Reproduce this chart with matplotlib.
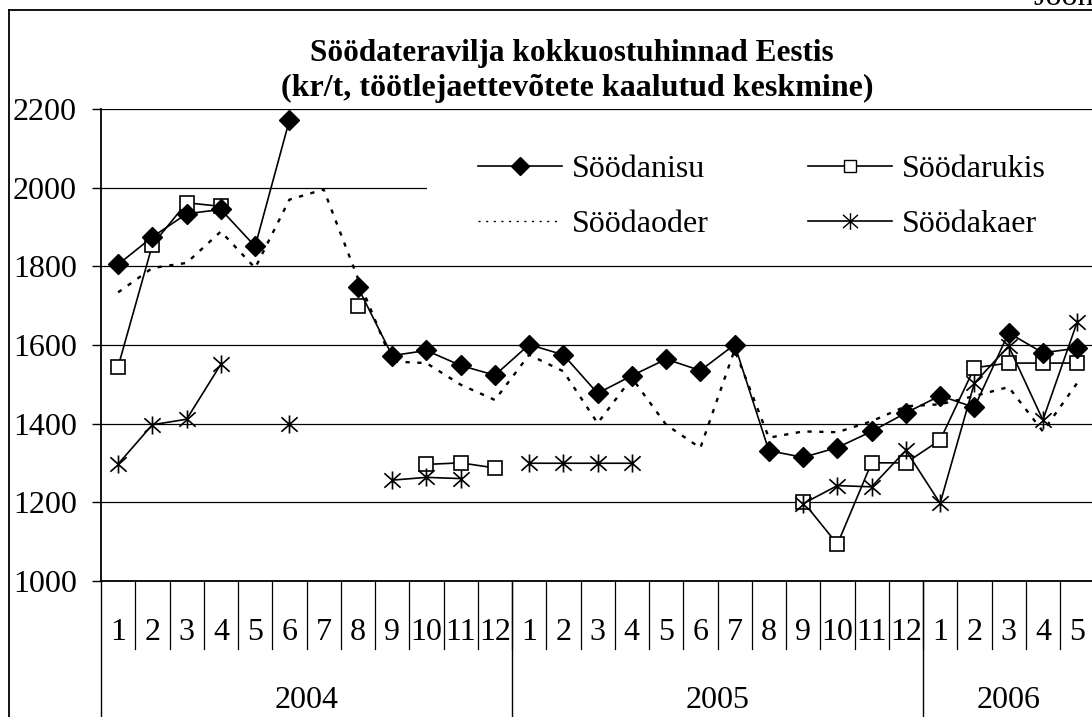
import numpy as np
import matplotlib
matplotlib.use("Agg")
import matplotlib.pyplot as plt
from matplotlib.path import Path
from matplotlib.lines import Line2D
from matplotlib.patches import Rectangle
import matplotlib.transforms as mtransforms

nan = np.nan
months = [str(m) for m in range(1, 13)] + [str(m) for m in range(1, 13)] + [str(m) for m in range(1, 6)]
years = ["2004", "2005", "2006"]
year_counts = [12, 12, 5]

nisu = [1805, 1875, 1934, 1945, 1851, 2172, nan, 1747, 1573, 1586, 1548, 1523,
        1601, 1575, 1477, 1522, 1564, 1535, 1601, 1331, 1314, 1339, 1380, 1427,
        1471, 1441, 1631, 1580, 1592]
rukis = [1545, 1855, 1962, 1953, nan, nan, nan, 1700, nan, 1296, 1300, 1287,
         nan, nan, nan, nan, nan, nan, nan, nan, 1201, 1093, 1300, 1300,
         1358, 1542, 1554, 1554, 1554]
oder = [1734, 1796, 1809, 1889, 1796, 1970, 1996, 1770, 1558, 1554, 1499, 1460,
        1575, 1533, 1401, 1516, 1397, 1338, 1588, 1364, 1380, 1378, 1406, 1444,
        1449, 1470, 1493, 1380, 1503]
kaer = [1297, 1397, 1411, 1551, nan, 1398, nan, nan, 1256, 1263, 1260, nan,
        1299, 1299, 1299, 1299, nan, nan, nan, nan, 1196, 1242, 1239, 1332,
        1197, 1503, 1597, 1409, 1658]
series_names = ["Söödanisu", "Söödarukis", "Söödaoder", "Söödakaer"]
title1 = "Söödateravilja kokkuostuhinnad Eestis"
title2 = "(kr/t, töötlejaettevõtete kaalutud keskmine)"

W, H = 1092, 717
FONT = "Liberation Serif"
FS = 23
plt.rcParams["font.family"] = [FONT, "DejaVu Serif"]

fig = plt.figure(figsize=(W / 100, H / 100), dpi=100)

def fx(px):
    return px / W

def fy(py):
    return (H - py) / H

ax_left, ax_right = 101, 101 + 29 * 34.25
ax_top, ax_bot = 109.3, 580.7
ax = fig.add_axes([fx(ax_left), fy(ax_bot), (ax_right - ax_left) / W, (ax_bot - ax_top) / H])

x = np.arange(1, len(months) + 1)

# asterisk marker like Excel's
ast = Path([(0, -1), (0, 1), (-0.9, -0.8), (0.9, 0.8), (-0.9, 0.8), (0.9, -0.8)],
           [Path.MOVETO, Path.LINETO, Path.MOVETO, Path.LINETO, Path.MOVETO, Path.LINETO])

lw = 1.2
ax.plot(x, oder, color="black", lw=1.7, linestyle=(0, (1.8, 3.2)), zorder=3)
ax.plot(x, rukis, color="black", lw=lw, marker="s", ms=10, mfc="white", mec="black", mew=1.2, zorder=4)
ax.plot(x, kaer, color="black", lw=lw, marker=ast, ms=13, mec="black", mew=1.2, zorder=5)
ax.plot(x, nisu, color="black", lw=lw, marker="D", ms=10, mfc="black", mec="black", zorder=6)

ax.set_xlim(0.5, len(months) + 0.5)
ax.set_ylim(1000, 2200)
ax.set_yticks(range(1000, 2201, 200))
ax.set_yticklabels([str(v) for v in range(1000, 2201, 200)], fontsize=FS, family=FONT)
ax.tick_params(axis="y", length=6.5, width=1, pad=11, colors="black")
ax.tick_params(axis="x", length=0, labelbottom=False)
ax.yaxis.grid(True, color="black", lw=0.9)
ax.set_axisbelow(True)
for s in ["top", "right"]:
    ax.spines[s].set_visible(False)
ax.spines["left"].set_linewidth(1.3)
ax.spines["bottom"].set_linewidth(1.3)

# white legend background covering gridline
ax.add_patch(Rectangle((fx(427), fy(255)), fx(700), (255 - 128) / H, transform=fig.transFigure,
                       facecolor="white", edgecolor="none", zorder=2, clip_on=False))

# category axis
bt = mtransforms.blended_transform_factory(ax.transData, fig.transFigure)
for i in range(len(months)):
    ax.text(x[i], fy(640), months[i], transform=bt, ha="center", va="baseline",
            fontsize=FS, family=FONT, clip_on=False)
    if i > 0:
        ax.add_line(Line2D([i + 0.5, i + 0.5], [fy(ax_bot), fy(649)], transform=bt,
                           color="black", lw=0.9, clip_on=False))
start = 0.5
for yname, cnt in zip(years, year_counts):
    ax.add_line(Line2D([start, start], [fy(ax_bot), 0], transform=bt,
                       color="black", lw=1.0, clip_on=False))
    ax.text(start + cnt / 2, fy(708), yname, transform=bt, ha="center", va="baseline",
            fontsize=FS, family=FONT, clip_on=False)
    start += cnt
ax.add_line(Line2D([start, start], [fy(ax_bot), 0], transform=bt,
                   color="black", lw=1.0, clip_on=False))

# legend
h_nisu = Line2D([], [], color="black", lw=lw, marker="D", ms=9, mfc="black")
h_rukis = Line2D([], [], color="black", lw=lw, marker="s", ms=9, mfc="white", mec="black")
h_oder = Line2D([], [], color="black", lw=1.0, linestyle=(0, (1.5, 4)))
h_kaer = Line2D([], [], color="black", lw=lw, marker=ast, ms=12, mec="black")
leg = ax.legend([h_nisu, h_oder, h_rukis, h_kaer],
                [series_names[0], series_names[2], series_names[1], series_names[3]],
                ncol=2, loc="upper left", bbox_to_anchor=(fx(478), fy(155)),
                bbox_transform=fig.transFigure, frameon=False, borderpad=0, borderaxespad=0,
                handlelength=2.63, handletextpad=0.31, columnspacing=3.1, labelspacing=0.8,
                prop={"family": FONT, "size": FS})
leg.set_zorder(10)

# titles
fig.text(fx(572), fy(61), title1, ha="center", va="baseline", fontsize=22.5,
         fontweight="bold", family=FONT)
fig.text(fx(577), fy(96), title2, ha="center", va="baseline", fontsize=23,
         fontweight="bold", family=FONT)

# outer frame
fig.add_artist(Line2D([fx(9), fx(9)], [fy(10), 0], transform=fig.transFigure, color="black", lw=1.3))
fig.add_artist(Line2D([fx(9), 1.0], [fy(10), fy(10)], transform=fig.transFigure, color="black", lw=1.3))

# caption at top right, clipped by the page edge as in the source
fig.text(fx(1033), fy(5), "Joonis", ha="left", va="baseline", fontsize=FS, family=FONT)

fig.savefig("out.png", dpi=100)
